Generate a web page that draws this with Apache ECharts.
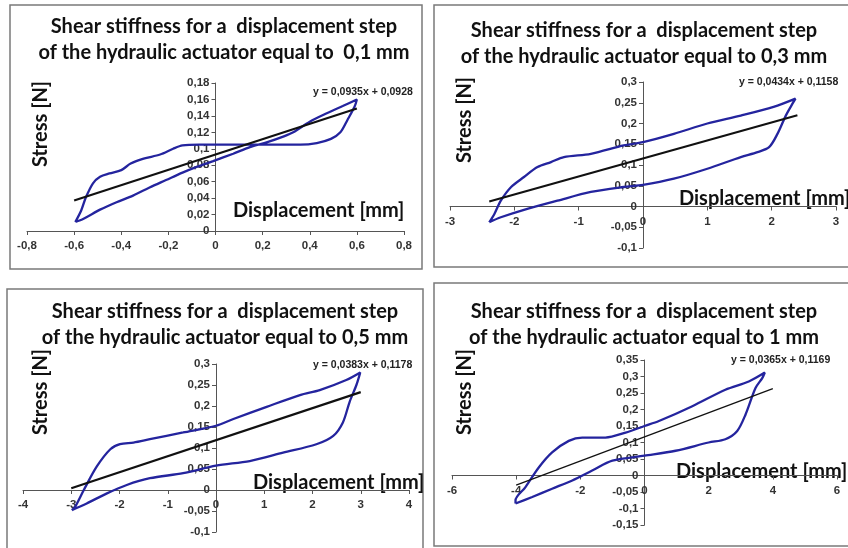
<!DOCTYPE html>
<html>
<head>
<meta charset="utf-8">
<script src="https://cdn.jsdelivr.net/npm/echarts@6/dist/echarts.min.js"></script>
<style>html,body{margin:0;padding:0;background:#fff}#c{width:848px;height:548px}</style>
</head>
<body>
<div id="c"></div>
<script>
// ---- Titles ----
var titles = [
  'Shear stiffness for a  displacement step\nof the hydraulic actuator equal to  0,1 mm',
  'Shear stiffness for a  displacement step\nof the hydraulic actuator equal to 0,3 mm',
  'Shear stiffness for a  displacement step\nof the hydraulic actuator equal to 0,5 mm',
  'Shear stiffness for a  displacement step\nof the hydraulic actuator equal to 1 mm'
];
var equations = ['y = 0,0935x + 0,0928', 'y = 0,0434x + 0,1158', 'y = 0,0383x + 0,1178', 'y = 0,0365x + 0,1169'];
var yName = 'Stress [N]';
var xName = 'Displacement [mm]';

// ---- Axis ranges ----
var xMin = [-0.8, -3, -4, -6], xMax = [0.8, 3, 4, 6], xStep = [0.2, 1, 1, 2];
var yMin = [0, -0.1, -0.1, -0.15], yMax = [0.18, 0.3, 0.3, 0.35], yStep = [0.02, 0.05, 0.05, 0.05];

// ---- Panel 1 (0,1 mm) hysteresis loop ----
var loop1X = [-0.595,-0.56,-0.49,-0.42,-0.35,-0.28,-0.21,-0.14,-0.08,-0.01,0.075,0.146,0.22,0.29,0.33,0.40,0.47,0.54,0.60,
              0.59,0.56,0.53,0.49,0.43,0.36,0.22,0.075,-0.07,-0.14,-0.18,-0.235,-0.305,-0.36,-0.40,-0.45,-0.49,-0.52,-0.55,-0.57,-0.595];
var loop1Y = [0.011,0.015,0.026,0.035,0.043,0.053,0.062,0.071,0.078,0.085,0.094,0.102,0.108,0.115,0.120,0.133,0.143,0.152,0.160,
              0.151,0.135,0.120,0.112,0.107,0.105,0.105,0.105,0.105,0.104,0.100,0.093,0.088,0.082,0.074,0.070,0.066,0.058,0.041,0.025,0.011];
var trend1X = [-0.6, 0.6], trend1Y = [0.037, 0.149];

// ---- Panel 2 (0,3 mm) ----
var loop2X = [-2.39,-2.21,-1.85,-1.33,-0.81,-0.30,0,0.48,1.00,1.52,1.78,1.96,2.09,2.22,2.34,2.37,
              2.03,1.52,1.00,0.48,0,-0.30,-0.81,-1.23,-1.43,-1.64,-1.85,-2.05,-2.21,-2.31,-2.39];
var loop2Y = [-0.038,-0.026,-0.008,0.014,0.035,0.047,0.052,0.067,0.091,0.119,0.131,0.143,0.175,0.219,0.252,0.260,
              0.240,0.219,0.200,0.175,0.155,0.147,0.127,0.119,0.107,0.095,0.071,0.047,0.014,-0.018,-0.038];
var trend2X = [-2.39, 2.4], trend2Y = [0.012, 0.220];

// ---- Panel 3 (0,5 mm) ----
var loop3X = [-2.99,-2.68,-2.26,-1.85,-1.37,-0.68,0,0.70,1.39,2.08,2.43,2.63,2.77,2.91,2.99,
              2.70,2.15,1.74,1.05,0.36,0,-0.68,-1.37,-1.71,-1.99,-2.19,-2.47,-2.74,-2.92,-2.99];
var loop3Y = [-0.048,-0.032,-0.008,0.012,0.028,0.040,0.058,0.069,0.089,0.109,0.129,0.161,0.210,0.250,0.280,
              0.262,0.238,0.226,0.198,0.169,0.153,0.137,0.121,0.113,0.109,0.097,0.056,0.000,-0.040,-0.048];
var trend3X = [-3, 3], trend3Y = [0.004, 0.233];

// ---- Panel 4 (1 mm) ----
var loop4X = [-4.02,-3.50,-2.88,-2.25,-1.63,-1.00,0,0.97,2.00,2.52,2.89,3.15,3.46,3.67,3.75,
              3.25,2.52,1.49,0.45,0,-0.59,-1.22,-1.94,-2.36,-2.88,-3.29,-3.71,-4.02,-4.02];
var loop4Y = [-0.085,-0.065,-0.040,-0.015,0.015,0.045,0.060,0.075,0.100,0.110,0.135,0.185,0.265,0.295,0.312,
              0.285,0.260,0.210,0.165,0.150,0.130,0.115,0.115,0.105,0.070,0.025,-0.035,-0.075,-0.085];
var trend4X = [-4, 4], trend4Y = [-0.029, 0.263];

function zip(a, b) { return a.map(function (v, i) { return [v, b[i]]; }); }
var loops = [zip(loop1X, loop1Y), zip(loop2X, loop2Y), zip(loop3X, loop3Y), zip(loop4X, loop4Y)];
var trends = [zip(trend1X, trend1Y), zip(trend2X, trend2Y), zip(trend3X, trend3Y), zip(trend4X, trend4Y)];

// ---- Layout ----
var grids = [
  {left: 27, top: 83, width: 377, height: 148},
  {left: 450, top: 82, width: 386, height: 166},
  {left: 23, top: 364, width: 386, height: 168},
  {left: 452, top: 360, width: 385, height: 165}
];
var boxes = [[10, 5, 412, 264], [434, 5, 420, 262], [7, 289, 416, 280], [434, 283, 420, 263]];
var titlePos = [[219, 9], [639, 13], [220, 294], [639, 294]];
var yNamePos = [[41, 124], [465, 120], [41, 392], [465, 392]];
var xNamePos = [[233, 211], [679, 199], [253, 483], [676, 472]];
var eqPos = [[313, 92], [739, 82], [313, 365], [731, 360]];

// place axes where the other axis is zero (labels move with them)
function yOffset(i) { return -grids[i].width * (0 - xMin[i]) / (xMax[i] - xMin[i]); }
function xOffset(i) { return -grids[i].height * (0 - yMin[i]) / (yMax[i] - yMin[i]); }

function fmt(v) { return String(parseFloat(v.toFixed(3))).replace('.', ','); }

var FONT = 'Lato, "Open Sans", sans-serif';
var LBL = {formatter: fmt, fontSize: 11.5, fontWeight: 'bold', color: '#333', fontFamily: 'Liberation Sans, Arial'};
var option = {
  animation: false,
  backgroundColor: '#fff',
  title: titles.map(function (t, i) {
    return {text: t, left: titlePos[i][0], top: titlePos[i][1], textAlign: 'center',
      textStyle: {fontFamily: FONT, fontWeight: 'bold', fontSize: 20, lineHeight: 26, color: '#111'}};
  }),
  grid: grids,
  xAxis: grids.map(function (g, i) {
    return {type: 'value', gridIndex: i, min: xMin[i], max: xMax[i], interval: xStep[i],
      position: 'bottom', offset: xOffset(i),
      axisLine: {onZero: false, lineStyle: {color: '#555', width: 1}},
      axisTick: {length: 4, lineStyle: {color: '#555'}},
      axisLabel: Object.assign({margin: 9}, LBL),
      splitLine: {show: false}};
  }),
  yAxis: grids.map(function (g, i) {
    return {type: 'value', gridIndex: i, min: yMin[i], max: yMax[i], interval: yStep[i],
      position: 'left', offset: yOffset(i),
      axisLine: {show: true, onZero: false, lineStyle: {color: '#555', width: 1}},
      axisTick: {show: true, length: 4, lineStyle: {color: '#555'}},
      axisLabel: Object.assign({margin: 6}, LBL),
      splitLine: {show: false}};
  }),
  series: [].concat(
    loops.map(function (d, i) {
      return {type: 'line', xAxisIndex: i, yAxisIndex: i, data: d, showSymbol: false, smooth: 0.3,
        lineStyle: {color: '#24249e', width: 2.3}, z: 3};
    }),
    trends.map(function (d, i) {
      return {type: 'line', xAxisIndex: i, yAxisIndex: i, data: d, showSymbol: false,
        lineStyle: {color: '#111', width: i === 3 ? 1.3 : 2.2}, z: 4};
    })
  ),
  graphic: [].concat(
    boxes.map(function (b) {
      return {type: 'rect', shape: {x: b[0], y: b[1], width: b[2], height: b[3]},
        style: {fill: 'none', stroke: '#7a7a7a', lineWidth: 1.5}, silent: true, z: 0};
    }),
    yNamePos.map(function (p) {
      return {type: 'text', x: p[0], y: p[1], rotation: Math.PI / 2,
        style: {text: yName, align: 'center', verticalAlign: 'middle', fontFamily: FONT, fontWeight: 'bold', fontSize: 20, fill: '#111'}};
    }),
    xNamePos.map(function (p) {
      return {type: 'text', x: p[0], y: p[1],
        style: {text: xName, align: 'left', verticalAlign: 'middle', fontFamily: FONT, fontWeight: 'bold', fontSize: 20, fill: '#111'}};
    }),
    eqPos.map(function (p, i) {
      return {type: 'text', x: p[0], y: p[1],
        style: {text: equations[i], align: 'left', verticalAlign: 'middle', fontFamily: 'Liberation Sans, Arial', fontWeight: 'bold', fontSize: 10.5, fill: '#222'}};
    })
  )
};
var chart = echarts.init(document.getElementById('c'));
chart.setOption(option);
</script>
</body>
</html>
